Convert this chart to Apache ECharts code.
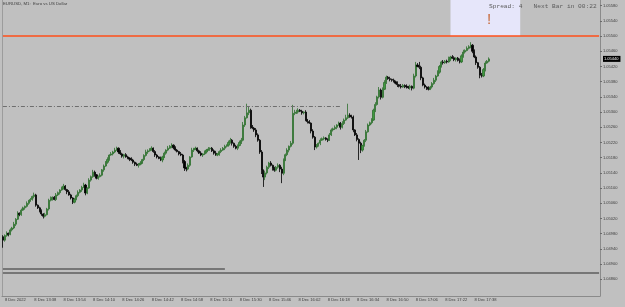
<!DOCTYPE html>
<html>
<head>
<meta charset="utf-8">
<script src="https://cdn.jsdelivr.net/npm/echarts@6/dist/echarts.min.js"></script>
<style>
html, body { margin: 0; padding: 0; background: #c0c0c0; }
#chart { width: 625px; height: 307px; }
</style>
</head>
<body>
<div id="chart"></div>
<script>
// --------------------------------------------------------
// data: prices kept in points above 1.04000 (1 point = 0.00001)
var BASE = 1.04;
var PT = 0.00001;

var firstOpen = 972;
var closes = [
  963, 975, 981, 978, 990, 995, 1005, 1018, 1034, 1030,
  1042, 1048, 1052, 1060, 1066, 1070, 1078, 1082, 1055, 1048,
  1040, 1032, 1026, 1030, 1045, 1068, 1072, 1076, 1070, 1082,
  1088, 1095, 1100, 1105, 1096, 1090, 1082, 1074, 1063, 1070,
  1080, 1089, 1095, 1102, 1108, 1087, 1100, 1121, 1130, 1142,
  1135, 1126, 1130, 1134, 1148, 1158, 1168, 1175, 1187, 1190,
  1195, 1200, 1205, 1195, 1190, 1184, 1188, 1182, 1179, 1176,
  1174, 1168, 1163, 1160, 1163, 1166, 1175, 1186, 1195, 1198,
  1202, 1205, 1196, 1187, 1182, 1178, 1174, 1182, 1192, 1200,
  1205, 1210, 1213, 1206, 1200, 1196, 1190, 1187, 1170, 1153,
  1150, 1160, 1182, 1200, 1203, 1205, 1198, 1192, 1187, 1190,
  1195, 1200, 1203, 1205, 1198, 1192, 1187, 1190, 1196, 1200,
  1205, 1210, 1213, 1220, 1226, 1218, 1210, 1205, 1212, 1220,
  1226, 1266, 1285, 1298, 1305, 1260, 1258, 1253, 1240, 1226,
  1195, 1147, 1129, 1140, 1155, 1166, 1160, 1152, 1147, 1155,
  1160, 1150, 1139, 1174, 1188, 1200, 1210, 1218, 1297, 1298,
  1300, 1305, 1302, 1298, 1300, 1279, 1275, 1271, 1250, 1234,
  1208, 1212, 1218, 1226, 1230, 1232, 1228, 1226, 1240, 1253,
  1256, 1260, 1266, 1271, 1260, 1270, 1279, 1285, 1292, 1290,
  1287, 1253, 1240, 1228, 1218, 1200, 1212, 1226, 1248, 1266,
  1272, 1279, 1305, 1320, 1340, 1358, 1339, 1360, 1378, 1392,
  1388, 1386, 1384, 1380, 1376, 1372, 1368, 1366, 1370, 1368,
  1366, 1364, 1368, 1363, 1395, 1424, 1420, 1418, 1390, 1371,
  1366, 1363, 1360, 1366, 1375, 1384, 1395, 1405, 1420, 1432,
  1430, 1434, 1432, 1440, 1445, 1443, 1438, 1442, 1436, 1432,
  1448, 1458, 1462, 1468, 1472, 1476, 1460, 1445, 1430, 1418,
  1397, 1395, 1412, 1429, 1434, 1440
];
var upWick = [
  4, 3, 5, 2, 4, 3, 6, 3, 5, 2,
  4, 3, 2, 5, 3, 4, 2, 6, 3, 2,
  3, 4, 2, 5, 3, 4, 6, 2, 3, 5,
  3, 2, 4, 6, 3, 2, 5, 3, 2, 4,
  3, 5, 2, 4, 6, 3, 2, 5, 3, 6,
  4, 2, 3, 5, 2, 4, 3, 6, 2, 5,
  3, 6, 4, 2, 5, 3, 2, 4, 3, 2,
  5, 3, 2, 4, 3, 5, 2, 3, 6, 4,
  3, 5, 2, 4, 3, 2, 5, 3, 4, 2,
  6, 3, 5, 2, 4, 3, 2, 5, 3, 4,
  3, 5, 2, 6, 3, 4, 2, 3, 5, 2,
  4, 3, 5, 2, 3, 4, 6, 2, 3, 5,
  3, 4, 2, 5, 6, 3, 2, 4, 3, 5,
  6, 8, 5, 24, 10, 4, 6, 3, 5, 4,
  3, 5, 2, 6, 4, 3, 5, 2, 4, 3,
  5, 3, 6, 4, 3, 5, 2, 6, 22, 8,
  6, 5, 3, 4, 2, 5, 3, 4, 2, 5,
  3, 4, 2, 5, 3, 4, 2, 3, 5, 4,
  3, 5, 2, 4, 3, 6, 4, 8, 30, 5,
  3, 4, 2, 5, 3, 4, 2, 3, 5, 4,
  3, 5, 4, 6, 3, 8, 4, 5, 6, 4,
  3, 5, 2, 4, 3, 5, 2, 6, 4, 3,
  5, 3, 4, 2, 6, 8, 5, 12, 4, 3,
  4, 2, 5, 3, 4, 6, 3, 5, 4, 3,
  5, 3, 4, 6, 3, 5, 4, 2, 3, 5,
  4, 6, 3, 5, 4, 8, 3, 5, 4, 2,
  3, 6, 4, 5, 3, 4
];
var downWick = [
  20, 4, 3, 5, 2, 4, 3, 5, 2, 4,
  3, 2, 5, 3, 4, 2, 3, 5, 4, 3,
  4, 5, 6, 3, 2, 4, 3, 5, 2, 4,
  3, 5, 2, 4, 3, 6, 2, 4, 5, 3,
  2, 4, 3, 5, 2, 6, 3, 2, 4, 3,
  5, 3, 4, 2, 3, 5, 2, 4, 3, 2,
  4, 3, 2, 5, 3, 4, 6, 2, 3, 5,
  3, 4, 5, 2, 6, 3, 2, 4, 3, 5,
  2, 4, 3, 5, 4, 2, 3, 6, 3, 4,
  3, 2, 5, 4, 3, 2, 4, 3, 5, 8,
  6, 3, 4, 2, 5, 3, 4, 2, 3, 5,
  3, 4, 2, 5, 3, 4, 2, 3, 5, 4,
  2, 5, 3, 4, 3, 6, 4, 3, 5, 2,
  4, 3, 5, 2, 6, 4, 3, 5, 6, 4,
  5, 10, 26, 8, 4, 5, 3, 6, 4, 3,
  4, 8, 26, 5, 3, 4, 6, 3, 4, 5,
  3, 4, 2, 5, 4, 3, 5, 2, 6, 4,
  8, 4, 3, 5, 2, 4, 3, 5, 2, 3,
  4, 3, 5, 2, 6, 3, 4, 2, 3, 5,
  4, 6, 3, 5, 44, 8, 4, 3, 5, 2,
  3, 4, 2, 5, 3, 4, 6, 3, 2, 4,
  3, 5, 4, 2, 3, 6, 3, 4, 2, 5,
  4, 3, 5, 6, 3, 4, 2, 5, 6, 3,
  4, 5, 3, 2, 4, 3, 5, 2, 4, 3,
  5, 3, 4, 2, 6, 3, 4, 5, 3, 4,
  3, 5, 4, 2, 3, 4, 5, 3, 6, 4,
  8, 4, 3, 5, 2, 3
];

// x axis: one slot per minute, tick label every 16 bars
var startMinute = 13 * 60 + 22;
var slotCount = 326;          // bars + empty shift on the right
var tickEvery = 16;
var tickLabels = [
  '8 Dec 2022', '8 Dec 13:38', '8 Dec 13:54', '8 Dec 14:10', '8 Dec 14:26',
  '8 Dec 14:42', '8 Dec 14:58', '8 Dec 15:14', '8 Dec 15:30', '8 Dec 15:46',
  '8 Dec 16:02', '8 Dec 16:18', '8 Dec 16:34', '8 Dec 16:50', '8 Dec 17:06',
  '8 Dec 17:22', '8 Dec 17:38'
];

// y axis
var priceTicks = [
  1.04860, 1.04900, 1.04940, 1.04980, 1.05020, 1.05060, 1.05100, 1.05140,
  1.05180, 1.05220, 1.05260, 1.05300, 1.05340, 1.05380, 1.05420, 1.05460,
  1.05500, 1.05540, 1.05580
];
var bidPrice = 1.05440;
var yMin = 1.04816;
var yMax = 1.05595;

// drawn objects
var levelOrange = 1.05500;
var levelDotted = 1.05316;
var levelGrayShort = 1.04889;
var levelGrayLong = 1.04876;

// --------------------------------------------------------
// build
var categories = [];
for (var s = 0; s < slotCount; s++) {
  var m = startMinute + s;
  var hh = Math.floor(m / 60), mm = m % 60;
  categories.push((hh < 10 ? '0' : '') + hh + ':' + (mm < 10 ? '0' : '') + mm);
}

function px(p) {
  return +(BASE + p * PT).toFixed(5);
}

var candles = closes.map(function (c, i) {
  var o = i === 0 ? firstOpen : closes[i - 1];
  var hi = Math.max(o, c) + upWick[i];
  var lo = Math.min(o, c) - downWick[i];
  return [px(o), px(c), px(lo), px(hi)];
});

// horizontal segment from category a to category b
function segment(level, a, b, style) {
  return [
    { xAxis: a, yAxis: level, lineStyle: style },
    { xAxis: b, yAxis: level }
  ];
}

var chart = echarts.init(document.getElementById('chart'), null, { renderer: 'canvas' });

var option = {
  backgroundColor: '#c0c0c0',
  animation: false,
  title: [
    {
      text: 'EURUSD, M1:  Euro vs US Dollar',
      left: 3, top: 2, padding: 0,
      textStyle: { fontSize: 4.3, fontWeight: 'normal', color: '#3c3c3c', fontFamily: 'Liberation Sans' }
    },
    {
      text: 'Spread: 4   Next Bar in 00:22',
      left: 489, top: 3, padding: 0,
      textStyle: { fontSize: 6.2, fontWeight: 'normal', color: '#5a5a5a', fontFamily: 'Liberation Mono' }
    },
    {
      text: '!',
      left: 487, top: 12, padding: 0,
      textStyle: { fontSize: 15, fontWeight: 'normal', color: '#c8693a', fontFamily: 'Liberation Sans' }
    }
  ],
  grid: { left: 2, right: 25, top: 0, bottom: 11 },
  xAxis: {
    type: 'category',
    data: categories,
    boundaryGap: true,
    axisLine: { lineStyle: { color: '#8a8a8a', width: 1 } },
    axisTick: { alignWithLabel: true, interval: tickEvery - 1, length: 5, lineStyle: { color: '#8a8a8a' } },
    axisLabel: {
      interval: tickEvery - 1,
      margin: 2,
      align: 'left',
      padding: [0, 0, 0, 2],
      fontSize: 4.1,
      color: '#3c3c3c',
      fontFamily: 'Liberation Sans',
      formatter: function (value, index) {
        return tickLabels[Math.round(index / tickEvery)] || '';
      }
    },
    splitLine: { show: false }
  },
  yAxis: [
    {
      type: 'value',
      position: 'right',
      min: yMin,
      max: yMax,
      axisLine: { show: true, lineStyle: { color: '#8a8a8a', width: 1 } },
      axisTick: { show: true, length: 2, customValues: priceTicks, lineStyle: { color: '#6a6a6a' } },
      axisLabel: {
        customValues: priceTicks.concat([bidPrice]),
        margin: 3,
        fontSize: 4,
        color: '#3c3c3c',
        fontFamily: 'Liberation Sans',
        formatter: function (v) {
          if (Math.abs(v - bidPrice) < 1e-7) return '{bid|' + v.toFixed(5) + '}';
          return v.toFixed(5);
        },
        rich: {
          bid: { backgroundColor: '#000', color: '#fff', fontSize: 4, padding: [1, 2, 1, 1], fontFamily: 'Liberation Sans' }
        }
      },
      splitLine: { show: false }
    },
    {
      type: 'value',
      position: 'left',
      min: yMin,
      max: yMax,
      axisLine: { show: true, lineStyle: { color: '#9c9c9c', width: 1 } },
      axisTick: { show: false },
      axisLabel: { show: false },
      splitLine: { show: false }
    }
  ],
  series: [
    {
      type: 'candlestick',
      data: candles,
      barWidth: 1.6,
      itemStyle: {
        color: '#3f9a3f',
        color0: '#000000',
        borderColor: '#2e6e2e',
        borderColor0: '#000000',
        borderWidth: 0.8
      },
      markArea: {
        silent: true,
        itemStyle: { color: '#e6e6fa' },
        data: [[{ xAxis: 244, yAxis: levelOrange }, { xAxis: 282, yAxis: yMax }]]
      },
      markLine: {
        silent: true,
        symbol: 'none',
        label: { show: false },
        data: [
          segment(levelOrange, 0, slotCount - 1, { color: '#ff4f1a', width: 1.6, type: 'solid' }),
          segment(levelDotted, 0, 184, { color: '#6e6e6e', width: 1, type: [4, 2, 1, 2] }),
          segment(levelGrayShort, 0, 121, { color: '#5e5e5e', width: 1.6, type: 'solid' }),
          segment(levelGrayLong, 0, slotCount - 1, { color: '#5e5e5e', width: 1.6, type: 'solid' })
        ]
      }
    }
  ]
};

option && chart.setOption(option);
</script>
</body>
</html>
